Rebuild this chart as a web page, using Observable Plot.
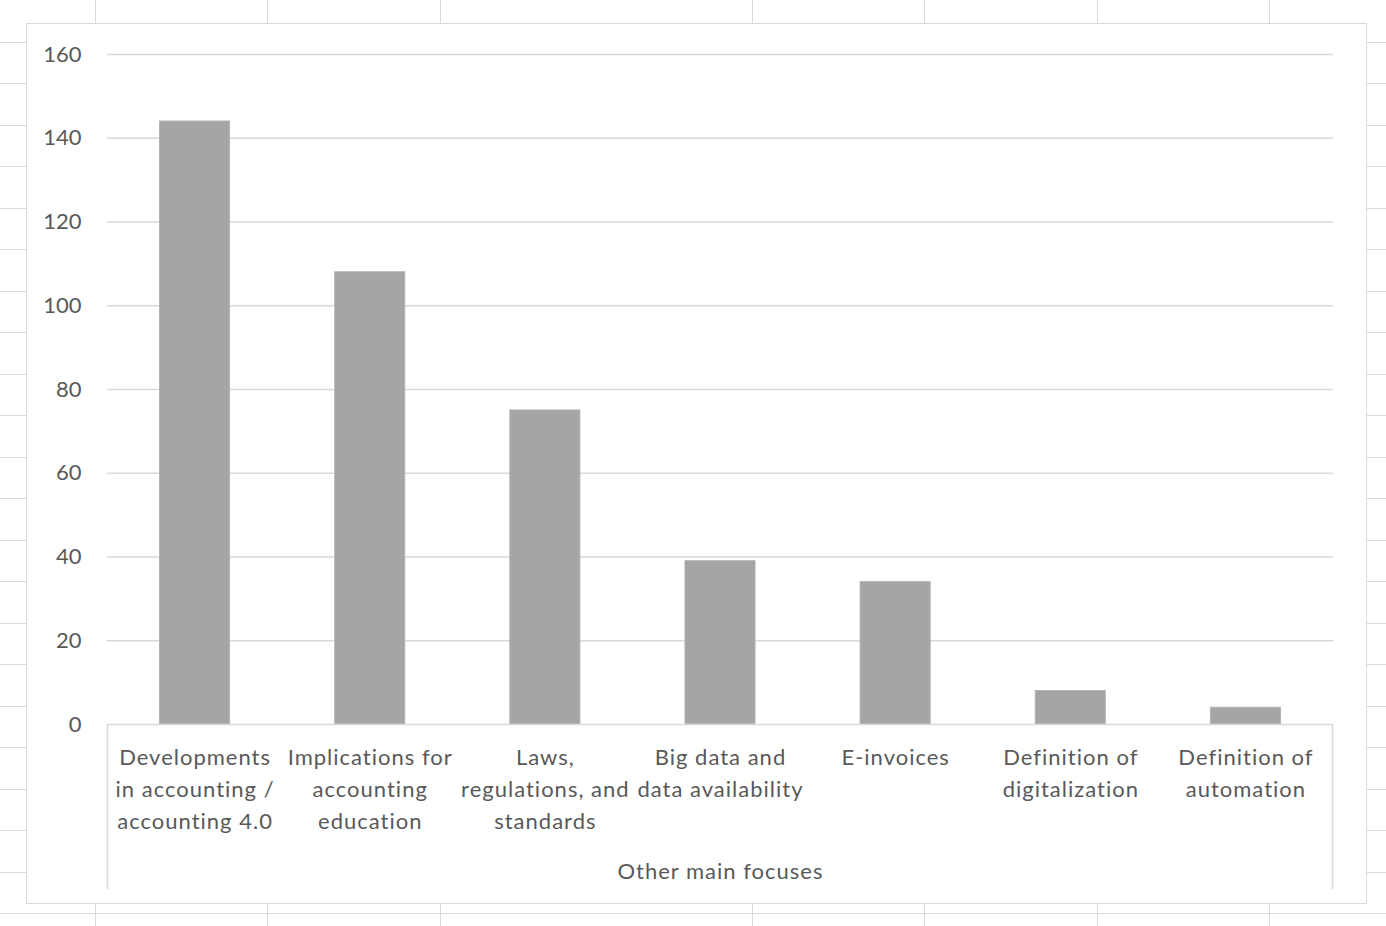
<!DOCTYPE html>
<html>
<head>
<meta charset="utf-8">
<script src="https://cdn.jsdelivr.net/npm/d3@7"></script>
<script src="https://cdn.jsdelivr.net/npm/@observablehq/plot@0.6"></script>
<style>
  html, body { margin: 0; padding: 0; background: #fff; }
  body { width: 1386px; height: 926px; position: relative; overflow: hidden; font-family: Lato, "Open Sans", sans-serif; }
  #sheet {
    position: absolute; left: 0; top: 0; width: 1386px; height: 926px;
    background-image: repeating-linear-gradient(to bottom, transparent 0, transparent 40.5px, #d9d9d9 40.5px, #d9d9d9 41.5px);
    background-position: 0 1px;
  }
  .vline { position: absolute; top: 0; width: 1px; height: 926px; background: #d9d9d9; }
  #chart {
    position: absolute; left: 26px; top: 23px; width: 1339px; height: 879px;
    background: #fff; border: 1.5px solid #d9d9d9; box-sizing: content-box;
  }
  #chart svg { display: block; }
  #chart text { letter-spacing: 1px; }
  #chart g[aria-label="y-axis tick label"] text { letter-spacing: 0; }
</style>
</head>
<body>
<div id="sheet"></div>
<div class="vline" style="left:95px"></div>
<div class="vline" style="left:267px"></div>
<div class="vline" style="left:440px"></div>
<div class="vline" style="left:752px"></div>
<div class="vline" style="left:924px"></div>
<div class="vline" style="left:1097px"></div>
<div class="vline" style="left:1269px"></div>
<div id="chart"></div>
<script>
const categories = [
  "Developments in accounting / accounting 4.0",
  "Implications for accounting education",
  "Laws, regulations, and standards",
  "Big data and data availability",
  "E-invoices",
  "Definition of digitalization",
  "Definition of automation"
];
const tickLabels = [
  "Developments\nin accounting /\naccounting 4.0",
  "Implications for\naccounting\neducation",
  "Laws,\nregulations, and\nstandards",
  "Big data and\ndata availability",
  "E-invoices",
  "Definition of\ndigitalization",
  "Definition of\nautomation"
];
const values = [144, 108, 75, 39, 34, 8, 4];
const yTicks = [0, 20, 40, 60, 80, 100, 120, 140, 160];
const outerLabel = "Other main focuses";

const data = categories.map((c, i) => ({cat: c, value: values[i]}));
const labelOf = new Map(categories.map((c, i) => [c, tickLabels[i]]));

const textColor = "#595959";
const gridColor = "#d9d9d9";

// bracket lines of the multi-level category axis
function bracket(index, scales, values, dims) {
  const g = d3.create("svg:g");
  const x1 = dims.marginLeft, x2 = dims.width - dims.marginRight;
  const y0 = dims.height - dims.marginBottom;
  const y1 = y0 + 165;
  g.append("line").attr("x1", x1 + 0.5).attr("x2", x1 + 0.5).attr("y1", y0).attr("y2", y1)
    .attr("stroke", gridColor).attr("stroke-width", 1.5);
  g.append("line").attr("x1", x2 - 0.5).attr("x2", x2 - 0.5).attr("y1", y0).attr("y2", y1)
    .attr("stroke", gridColor).attr("stroke-width", 1.5);
  return g.node();
}

const chart = Plot.plot({
  width: 1339,
  height: 879,
  marginLeft: 80,
  marginRight: 33,
  marginTop: 30,
  marginBottom: 179,
  style: {fontFamily: "Lato, 'Open Sans', sans-serif", color: textColor, background: "transparent"},
  x: {domain: categories, paddingInner: 0.6, paddingOuter: 0.3, align: 0.5, round: false},
  y: {domain: [0, 160]},
  marks: [
    Plot.gridY(yTicks.slice(1), {stroke: gridColor, strokeOpacity: 1, strokeWidth: 1.5}),
    Plot.barY(data, {x: "cat", y: "value", fill: "#a5a5a5", stroke: "#b4b4b4", strokeWidth: 1}),
    Plot.ruleY([0], {stroke: gridColor, strokeWidth: 1.5}),
    Plot.axisY({ticks: yTicks, tickSize: 0, tickPadding: 26, fontSize: 22, fill: textColor, label: null}),
    Plot.axisX({tickSize: 0, tickPadding: 18, tickFormat: d => labelOf.get(d), fontSize: 22, lineHeight: 1.45, fill: textColor, label: null}),
    Plot.text([outerLabel], {frameAnchor: "bottom", dy: 154, fontSize: 22, fill: textColor}),
    bracket
  ]
});
document.getElementById("chart").appendChild(chart);
</script>
</body>
</html>
